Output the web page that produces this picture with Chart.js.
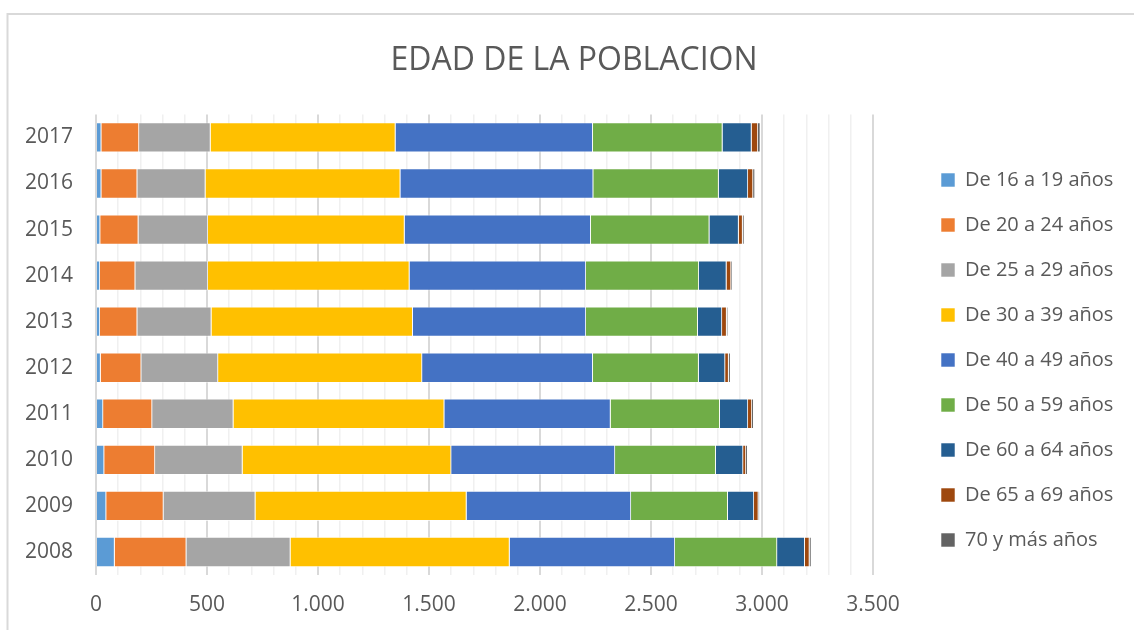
<!DOCTYPE html>
<html>
<head>
<meta charset="utf-8">
<script src="https://cdn.jsdelivr.net/npm/chart.js@4/dist/chart.umd.min.js"></script>
<style>
  html, body { margin: 0; padding: 0; background: #fff; }
  canvas { display: block; }
</style>
</head>
<body>
<canvas id="chart" width="1134" height="630"></canvas>
<script>
const years = ['2008', '2009', '2010', '2011', '2012', '2013', '2014', '2015', '2016', '2017'];
const ageGroups = ['De 16 a 19 años', 'De 20 a 24 años', 'De 25 a 29 años', 'De 30 a 39 años',
  'De 40 a 49 años', 'De 50 a 59 años', 'De 60 a 64 años', 'De 65 a 69 años', '70 y más años'];
const colors = ['#5B9BD5', '#ED7D31', '#A5A5A5', '#FFC000', '#4472C4', '#70AD47', '#255E91', '#9E480E', '#636363'];

// values per year, 2008 .. 2017
const age16to19 = [84, 46, 37, 32, 21, 18, 18, 19, 24, 24];
const age20to24 = [323, 258, 229, 221, 183, 168, 159, 172, 162, 170];
const age25to29 = [469, 414, 394, 366, 346, 334, 327, 313, 307, 322];
const age30to39 = [987, 951, 940, 950, 919, 907, 908, 886, 878, 833];
const age40to49 = [745, 741, 738, 749, 769, 780, 795, 839, 869, 889];
const age50to59 = [460, 436, 454, 492, 477, 504, 509, 534, 565, 584];
const age60to64 = [125, 118, 123, 127, 119, 109, 124, 132, 132, 131];
const age65to69 = [21, 20, 13, 18, 16, 21, 21, 18, 23, 29];
const age70plus = [9, 6, 8, 8, 9, 6, 6, 8, 9, 11];

const series = [age16to19, age20to24, age25to29, age30to39, age40to49, age50to59, age60to64, age65to69, age70plus];

const textColor = '#595959';
const fontFamily = "'Open Sans', sans-serif";

function thousands(v) {
  return String(v).replace(/\B(?=(\d{3})+(?!\d))/g, '.');
}

// light frame round the chart, like the spreadsheet chart border
const frame = {
  id: 'frame',
  beforeDraw(chart) {
    const ctx = chart.ctx;
    ctx.save();
    ctx.strokeStyle = '#d9d9d9';
    ctx.lineWidth = 2;
    ctx.beginPath();
    ctx.moveTo(7.5, chart.height);
    ctx.lineTo(7.5, 14);
    ctx.lineTo(chart.width, 14);
    ctx.stroke();
    ctx.restore();
  }
};

// keep a gap between the plot and the legend
const legendGap = {
  id: 'legendGap',
  beforeLayout(chart) {
    const legend = chart.legend;
    if (legend && !legend._gapPatched) {
      const fit = legend.fit;
      legend.fit = function () {
        fit.call(this);
        this.width = 261;
      };
      legend._gapPatched = true;
    }
  },
  afterLayout(chart) {
    chart.legend.left += 43;
  }
};

const ctx = document.getElementById('chart').getContext('2d');
new Chart(ctx, {
  type: 'bar',
  data: {
    labels: years,
    datasets: ageGroups.map((name, i) => ({
      label: name,
      data: series[i],
      backgroundColor: colors[i],
      borderColor: 'rgba(255,255,255,0.7)',
      borderWidth: 0.8,
      barPercentage: 0.65,
      categoryPercentage: 1
    }))
  },
  options: {
    indexAxis: 'y',
    responsive: false,
    animation: false,
    devicePixelRatio: 1,
    layout: { padding: { left: 14, right: 0, top: 0, bottom: 13 } },
    scales: {
      x: {
        stacked: true,
        min: 0,
        max: 3500,
        border: { display: false },
        grid: {
          drawTicks: false,
          color: c => (c.tick && c.tick.value % 500 === 0) ? '#d9d9d9' : '#f0f0f0',
          lineWidth: c => (c.tick && c.tick.value % 500 === 0) ? 2 : 1.5
        },
        ticks: {
          stepSize: 100,
          autoSkip: false,
          maxRotation: 0,
          padding: 17,
          color: textColor,
          font: { family: fontFamily, size: 21 },
          callback: v => v % 500 === 0 ? thousands(v) : ''
        },
        afterFit(scale) {
          scale.height = 42;
        }
      },
      y: {
        stacked: true,
        reverse: true,
        border: { display: false },
        grid: { display: false, drawTicks: false },
        ticks: {
          padding: 23,
          color: textColor,
          font: { family: fontFamily, size: 21 }
        },
        afterFit(scale) {
          scale.width = 82;
        }
      }
    },
    plugins: {
      title: {
        display: true,
        text: 'EDAD DE LA POBLACION',
        color: textColor,
        font: { family: fontFamily, size: 32, weight: 'normal' },
        padding: { top: 42, bottom: 34 }
      },
      legend: {
        position: 'right',
        align: 'end',
        fullSize: false,
        labels: {
          color: textColor,
          font: { family: fontFamily, size: 20 },
          boxWidth: 14,
          boxHeight: 14,
          padding: 25
        }
      },
      tooltip: { enabled: false }
    }
  },
  plugins: [frame, legendGap]
});
</script>
</body>
</html>
